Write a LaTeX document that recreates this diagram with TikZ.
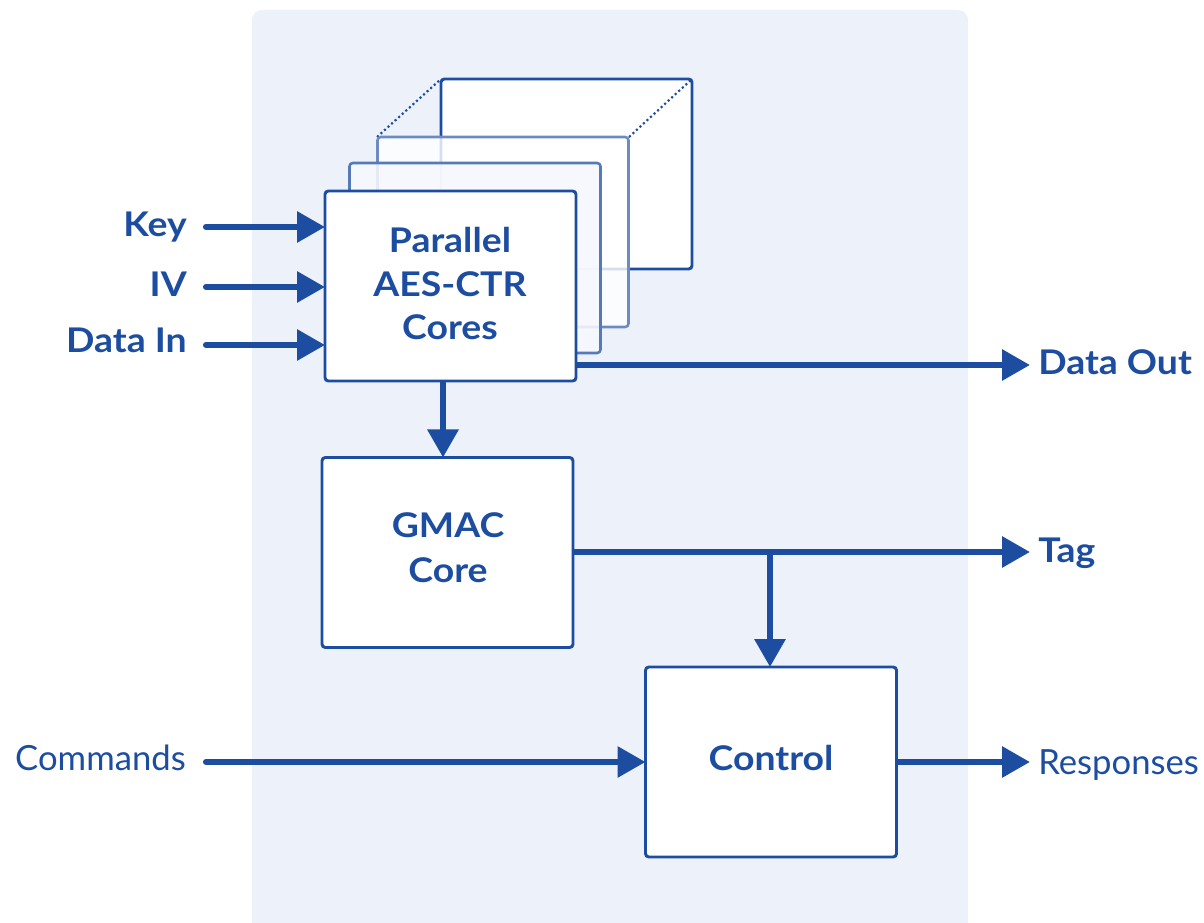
\documentclass[tikz,border=0pt]{standalone}
\usepackage{fontspec}
\setmainfont[BoldFeatures={FakeStretch=1.1}]{Lato}
\usetikzlibrary{arrows.meta}
\definecolor{ink}{HTML}{1D4DA0}
\definecolor{panel}{HTML}{ECF1FA}
\definecolor{ghost}{HTML}{F6F8FD}
\tikzset{
  blk/.style={draw=ink, line width=2.2pt, fill=white, rounded corners=2.5pt,
    minimum width=188.25pt, minimum height=142.5pt, inner sep=0pt, outer sep=0pt},
  flow/.style={draw=ink, line width=4.6pt, line cap=round,
    -{Triangle[length=21pt,width=22.5pt]}},
  lbl/.style={text=ink, font=\fontsize{25.5}{33}\selectfont\bfseries, inner sep=0pt},
  lblr/.style={text=ink, font=\fontsize{26}{33}\selectfont, inner sep=0pt},
  intext/.style={text=ink, font=\fontsize{25.5}{33}\selectfont\bfseries, inner sep=0pt, anchor=base}
}
\begin{document}
\begin{tikzpicture}[x=0.75pt,y=-0.75pt]
\useasboundingbox (0,0) rectangle (1204,923);
\fill[panel, rounded corners=7.5pt] (252,10) rectangle (968,940);

% stacked core boxes
\node[blk] (back) at (566.5,174) {};
\draw[ink, line width=1.6pt, dotted] (377,137) -- (back.north west);
\draw[ink, line width=1.6pt, dotted] (629,137) -- (back.north east);
\node[blk, draw=ink!65, fill=white, fill opacity=0.82, line width=1.9pt] (core3) at (503,232) {};
\node[blk, draw=ink!75, fill=ghost, fill opacity=0.88, line width=1.9pt] (core2) at (475,258) {};
\node[blk] (aes) at (450.5,286) {};
\node[intext] at (450,253) {Parallel};
\node[intext] at (450,297) {AES-CTR};
\node[intext] at (450,340) {Cores};

\node[blk] (gmac) at (447.5,552.5) {};
\node[intext] at (448,538) {GMAC};
\node[intext] at (448,582) {Core};

\node[blk] (ctrl) at (771,762) {};
\node[intext] at (771,770) {Control};

% inputs
\node[lbl, anchor=base east] (keyl) at (187,237) {Key};
\node[lbl, anchor=base east] (ivl) at (187,297) {IV};
\node[lbl, anchor=base east] (dinl) at (187,353) {Data In};
\node[lblr, anchor=base east] (cmdl) at (186,770) {Commands};
\coordinate (k0) at (206,227);
\coordinate (i0) at (206,287);
\coordinate (d0) at (206,345);
\coordinate (c0) at (206,762);
\draw[flow] (k0) -- (aes.west |- k0);
\draw[flow] (i0) -- (aes.west |- i0);
\draw[flow] (d0) -- (aes.west |- d0);
\draw[flow] (c0) -- (ctrl.west |- c0);

% outputs
\coordinate (doe) at (1030,365);
\coordinate (tge) at (1030,552);
\coordinate (rse) at (1030,762);
\coordinate (br) at (770,552);
\node[lbl, anchor=base west] (doutl) at (1038,375) {Data Out};
\node[lbl, anchor=base west] (tagl) at (1038,563) {Tag};
\node[lblr, anchor=base west] (respl) at (1038,774) {Responses};
\draw[flow, line cap=butt] (aes.east |- doe) -- (doe);
\draw[flow, line cap=butt] (gmac.east |- tge) -- (tge);
\draw[flow, line cap=butt] (ctrl.east |- rse) -- (rse);
\draw[flow, line cap=butt] (br) -- (br |- ctrl.north);
\draw[flow, line cap=butt] (aes.south -| 443,0) -- (gmac.north -| 443,0);
\end{tikzpicture}
\end{document}
